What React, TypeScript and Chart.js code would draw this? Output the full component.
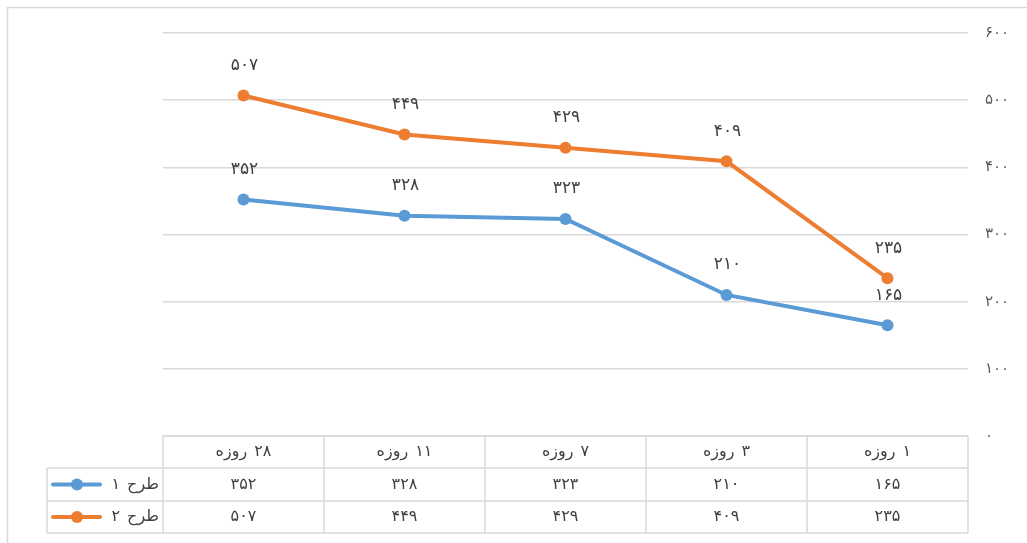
import React, { useEffect, useRef } from "react";
import { Chart, registerables } from "chart.js";

Chart.register(...registerables);

const categories = ["۱ روزه", "۳ روزه", "۷ روزه", "۱۱ روزه", "۲۸ روزه"];
const seriesNames = ["طرح ۱", "طرح ۲"];
const series1 = [165, 210, 323, 328, 352];
const series2 = [235, 409, 429, 449, 507];
const yTicks = [0, 100, 200, 300, 400, 500, 600];

const colors = ["#5B9BD5", "#ED7D31"];
const FONT = "'DejaVu Sans', sans-serif";

const toFa = (v: number | string) =>
  String(v).replace(/\d/g, (d) => "۰۱۲۳۴۵۶۷۸۹"[+d]);

const framePlugin = {
  id: "frame",
  beforeDraw(chart: any) {
    const ctx = chart.ctx;
    ctx.save();
    ctx.strokeStyle = "#d9d9d9";
    ctx.lineWidth = 1.5;
    ctx.strokeRect(7.5, 7.5, 1200, 700);
    ctx.restore();
  },
};

const yLabelsPlugin = {
  id: "yLabels",
  afterDraw(chart: any) {
    const ctx = chart.ctx;
    const y = chart.scales.y;
    ctx.save();
    ctx.font = `15px ${FONT}`;
    (ctx as any).letterSpacing = "3px";
    ctx.fillStyle = "#595959";
    ctx.textAlign = "left";
    ctx.textBaseline = "middle";
    yTicks.forEach((v) => {
      ctx.fillText(toFa(v), chart.chartArea.right + 17, y.getPixelForValue(v));
    });
    ctx.restore();
  },
};

const labelsPlugin = {
  id: "pointLabels",
  afterDatasetsDraw(chart: any) {
    const ctx = chart.ctx;
    ctx.save();
    ctx.font = `17px ${FONT}`;
    (ctx as any).letterSpacing = "2px";
    ctx.fillStyle = "#404040";
    ctx.textAlign = "center";
    ctx.textBaseline = "middle";
    chart.data.datasets.forEach((ds: any, di: number) => {
      const meta = chart.getDatasetMeta(di);
      meta.data.forEach((pt: any, i: number) => {
        ctx.fillText(toFa(ds.data[i]), pt.x + 1, pt.y - 30);
      });
    });
    ctx.restore();
  },
};

const tablePlugin = {
  id: "dataTable",
  afterDraw(chart: any) {
    const { ctx, chartArea } = chart;
    const x = chart.scales.x;
    const n = categories.length;
    const left = chartArea.left;
    const right = chartArea.right;
    const colW = (right - left) / n;
    const rows = [chartArea.bottom, chartArea.bottom + 32, chartArea.bottom + 65, chartArea.bottom + 97];
    const legendLeft = 47;
    ctx.save();
    ctx.strokeStyle = "#d9d9d9";
    ctx.lineWidth = 1.5;
    ctx.beginPath();
    ctx.moveTo(left, rows[0]);
    ctx.lineTo(right, rows[0]);
    for (let r = 1; r < rows.length; r++) {
      ctx.moveTo(legendLeft, rows[r]);
      ctx.lineTo(right, rows[r]);
    }
    ctx.moveTo(legendLeft, rows[1]);
    ctx.lineTo(legendLeft, rows[3]);
    for (let i = 0; i < n; i++) {
      const c = x.getPixelForValue(i);
      const e1 = c - colW / 2;
      const e2 = c + colW / 2;
      ctx.moveTo(e1, rows[0]);
      ctx.lineTo(e1, rows[3]);
      ctx.moveTo(e2, rows[0]);
      ctx.lineTo(e2, rows[3]);
    }
    ctx.stroke();

    ctx.font = `16px ${FONT}`;
    (ctx as any).letterSpacing = "2px";
    ctx.fillStyle = "#404040";
    ctx.textBaseline = "middle";
    ctx.textAlign = "center";
    (ctx as any).direction = "rtl";
    const data = [series1, series2];
    for (let i = 0; i < n; i++) {
      const c = x.getPixelForValue(i);
      ctx.fillText(categories[i], c, (rows[0] + rows[1]) / 2);
      for (let s = 0; s < 2; s++) {
        ctx.fillText(toFa(data[s][i]), c, (rows[s + 1] + rows[s + 2]) / 2);
      }
    }
    for (let s = 0; s < 2; s++) {
      const cy = (rows[s + 1] + rows[s + 2]) / 2;
      ctx.textAlign = "right";
      ctx.fillStyle = "#404040";
      ctx.fillText(seriesNames[s], left - 4, cy);
      ctx.strokeStyle = colors[s];
      ctx.lineWidth = 4;
      ctx.lineCap = "round";
      ctx.beginPath();
      ctx.moveTo(53, cy);
      ctx.lineTo(100, cy);
      ctx.stroke();
      ctx.fillStyle = colors[s];
      ctx.beginPath();
      ctx.arc(77, cy, 6, 0, Math.PI * 2);
      ctx.fill();
    }
    ctx.restore();
  },
};

export default function App() {
  const ref = useRef<HTMLCanvasElement>(null);
  useEffect(() => {
    document.body.style.margin = "0";
    const mk = (i: number, data: number[]) => ({
      label: seriesNames[i],
      data,
      borderColor: colors[i],
      backgroundColor: colors[i],
      borderWidth: 4,
      pointRadius: 6,
      pointBorderWidth: 0,
      pointBackgroundColor: colors[i],
      tension: 0,
    });
    const chart = new Chart(ref.current as HTMLCanvasElement, {
      type: "line",
      data: {
        labels: categories,
        datasets: [mk(0, series1), mk(1, series2)],
      },
      options: {
        responsive: false,
        animation: false,
        layout: { padding: { left: 163, top: 33, bottom: 107, right: 0 } },
        plugins: { legend: { display: false }, tooltip: { enabled: false } },
        scales: {
          x: {
            type: "category",
            reverse: true,
            offset: true,
            display: false,
          },
          y: {
            position: "right",
            min: 0,
            max: 600,
            afterFit: (axis: any) => {
              axis.width = 59;
            },
            afterBuildTicks: (axis: any) => {
              axis.ticks = yTicks.map((v) => ({ value: v }));
            },
            border: { display: false },
            grid: { color: "#d9d9d9", lineWidth: 1.5, drawTicks: false },
            ticks: { display: false },
          },
        },
      },
      plugins: [framePlugin, labelsPlugin, tablePlugin, yLabelsPlugin],
    });
    return () => chart.destroy();
  }, []);
  return (
    <div style={{ position: "absolute", left: 0, top: 0, width: 1027, height: 543 }}>
      <canvas ref={ref} width={1027} height={543} />
    </div>
  );
}
